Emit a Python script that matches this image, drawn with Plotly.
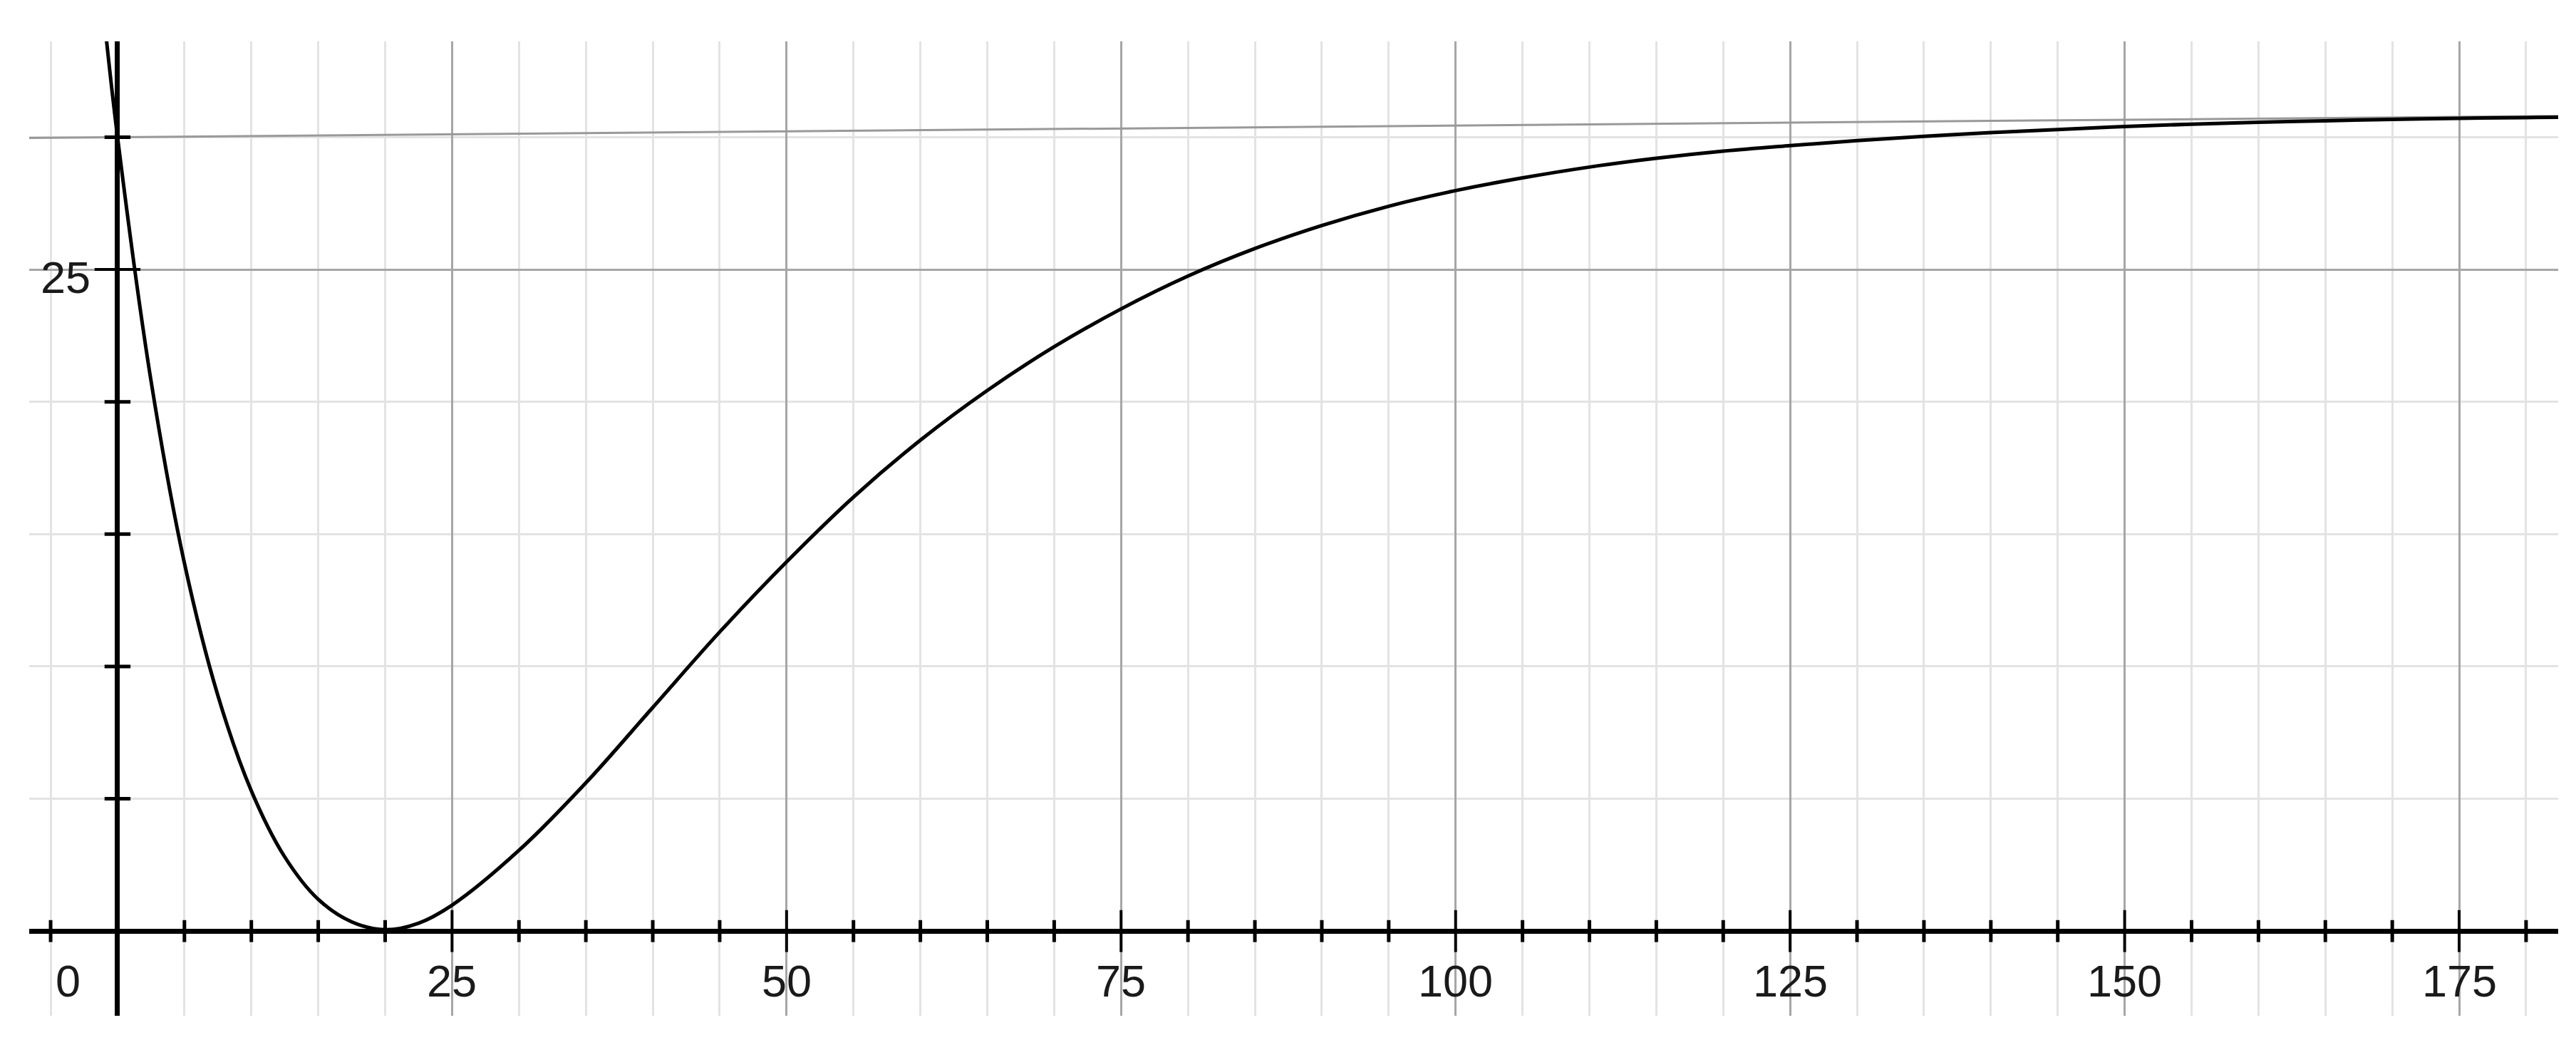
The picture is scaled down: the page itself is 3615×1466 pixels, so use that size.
import plotly.graph_objects as go

# curve (x, y pairs)
curve_x = [-1.0, 0.0, 2.5, 5.0, 7.5, 10.0, 12.5, 15.0, 17.5, 20.0, 22.5, 25.0, 30.0, 35.0, 40.0,
           45.0, 50.0, 55.0, 60.0, 65.0, 70.0, 75.0, 80.0, 85.0, 90.0, 95.0, 100.0, 105.0, 110.0,
           115.0, 120.0, 125.0, 130.0, 135.0, 140.0, 145.0, 150.0, 155.0, 160.0, 165.0, 170.0,
           175.0, 180.0, 182.4]
curve_y = [34.5, 30.0, 20.8, 13.9, 8.9, 5.3, 2.8, 1.2, 0.35, 0.05, 0.3, 0.98, 3.05, 5.6, 8.45,
           11.3, 13.95, 16.4, 18.55, 20.43, 22.08, 23.51, 24.75, 25.79, 26.66, 27.39, 27.98, 28.46,
           28.87, 29.2, 29.47, 29.68, 29.87, 30.03, 30.17, 30.29, 30.4, 30.49, 30.56, 30.62, 30.67,
           30.71, 30.74, 30.75]

# thin grey guide line near y = 30
guide_x = [-6.6, 182.4]
guide_y = [29.97, 30.8]

# tick marks on the axes
x_minor_ticks = [-5, 5, 10, 15, 20, 30, 35, 40, 45, 55, 60, 65, 70, 80, 85, 90, 95, 105, 110,
                 115, 120, 130, 135, 140, 145, 155, 160, 165, 170, 180]
x_major_ticks = [25, 50, 75, 100, 125, 150, 175]
y_minor_ticks = [5, 10, 15, 20, 30]
y_major_ticks = [25]

x_labels = ["25", "50", "75", "100", "125", "150", "175"]
y_labels = ["25"]

fig = go.Figure()

fig.add_trace(go.Scatter(x=guide_x, y=guide_y, mode="lines",
                         line=dict(color="#999999", width=3), hoverinfo="skip"))
fig.add_trace(go.Scatter(x=curve_x, y=curve_y, mode="lines",
                         line=dict(color="black", width=5, shape="spline", smoothing=1.0)))

# little cross ticks on the x axis
fig.add_trace(go.Scatter(x=x_minor_ticks, y=[0] * len(x_minor_ticks), mode="markers",
                         marker=dict(symbol="line-ns", size=22, line=dict(color="black", width=5))))
fig.add_trace(go.Scatter(x=x_major_ticks, y=[0] * len(x_major_ticks), mode="markers",
                         marker=dict(symbol="line-ns", size=42, line=dict(color="black", width=4))))
# and on the y axis
fig.add_trace(go.Scatter(x=[0] * len(y_minor_ticks), y=y_minor_ticks, mode="markers",
                         marker=dict(symbol="line-ew", size=26, line=dict(color="black", width=5))))
fig.add_trace(go.Scatter(x=[0] * len(y_major_ticks), y=y_major_ticks, mode="markers",
                         marker=dict(symbol="line-ew", size=46, line=dict(color="black", width=4))))

label_font = dict(family="Liberation Sans, Arial, sans-serif", size=63, color="#1a1a1a")

for v, t in zip(x_major_ticks, x_labels):
    fig.add_annotation(x=v, y=-1.87, text=t, showarrow=False, font=label_font,
                       xanchor="center", yanchor="middle")
# the origin label sits a bit left of the axis
fig.add_annotation(x=-3.7, y=-1.87, text="0", showarrow=False, font=label_font,
                   xanchor="center", yanchor="middle")
for v, t in zip(y_major_ticks, y_labels):
    fig.add_annotation(x=-1.9, y=v - 0.3, text=t, showarrow=False, font=label_font,
                       xanchor="right", yanchor="middle")

fig.update_layout(
    width=3615, height=1466,
    margin=dict(l=33, r=33, t=50, b=49),
    plot_bgcolor="white", paper_bgcolor="white",
    showlegend=False,
    xaxis=dict(range=[-6.6, 182.4], tick0=0, dtick=25, showgrid=True, gridcolor="#a6a6a6",
               gridwidth=3, minor=dict(tick0=0, dtick=5, showgrid=True, gridcolor="#e3e3e3",
                                       gridwidth=3),
               zeroline=True, zerolinecolor="black", zerolinewidth=7,
               showticklabels=False, ticks="", showline=False),
    yaxis=dict(range=[-3.2, 33.62], tick0=0, dtick=25, showgrid=True, gridcolor="#a6a6a6",
               gridwidth=3, minor=dict(tick0=0, dtick=5, showgrid=True, gridcolor="#e3e3e3",
                                       gridwidth=3),
               zeroline=True, zerolinecolor="black", zerolinewidth=7,
               showticklabels=False, ticks="", showline=False),
)

fig.write_html("out.html")
